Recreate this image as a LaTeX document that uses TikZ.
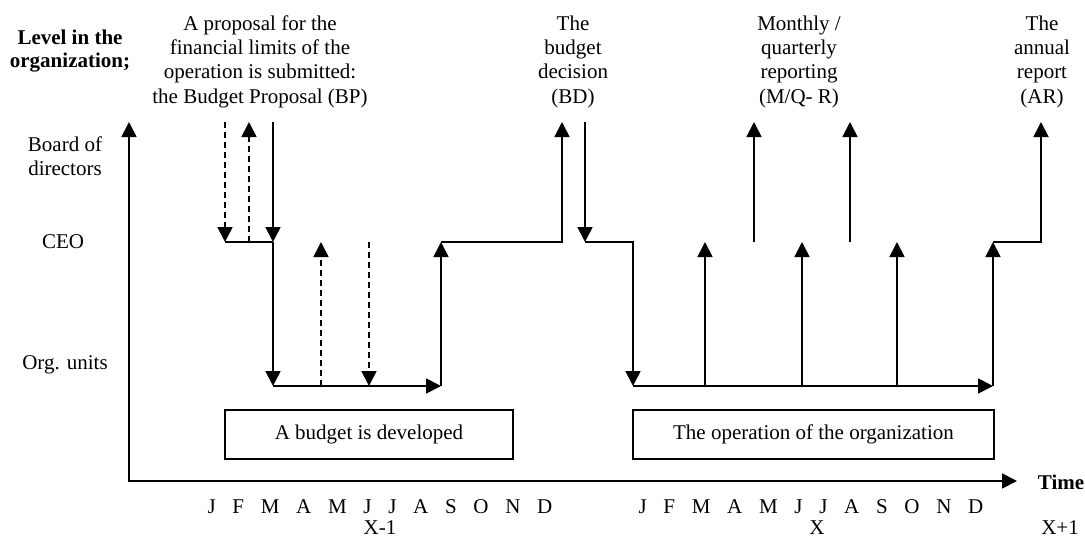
\documentclass[tikz,border=0pt]{standalone}
\usepackage{fontspec}
\setmainfont{Liberation Serif}
\usetikzlibrary{arrows.meta}
\newcommand\mgap{\hspace{16.7pt}}
\newcommand\monthsrow{J\mgap F\mgap M\mgap A\mgap M\mgap J\mgap J\mgap A\mgap S\mgap O\mgap N\mgap D}
\begin{document}
\begin{tikzpicture}[x=1pt,y=-1pt,
  lw/.style={line width=1.8pt},
  tip/.style={-{Triangle[length=15pt,width=15pt]}},
  dsh/.style={dash pattern=on 6pt off 4pt},
  txt/.style={align=center,inner sep=0pt,font=\fontsize{21}{24.3}\selectfont},
  txtb/.style={align=center,inner sep=0pt,font=\fontsize{21}{23}\selectfont\bfseries},
  phase/.style={draw,line width=1.6pt,minimum height=49pt,inner sep=0pt,font=\fontsize{21}{24.3}\selectfont}]
\useasboundingbox (0,0) rectangle (1085,538);
\def\yB{122}
\def\yC{242}
\def\yO{386}

% axes
\coordinate (O) at (129,481);
\coordinate (Ytop) at (129,\yB);
\coordinate (Xend) at (1017,481);
\draw[lw,{Triangle[length=15pt,width=15pt]}-{Triangle[length=15pt,width=15pt]}] (Ytop) -- (O) -- (Xend);

% axis and level labels
\node[txtb] (lvl) at (70,51.5) {Level in the\\organization;};
\node[txt] (board) at (65,156.5) {Board of\\directors};
\node[txt] (ceo) at (63,242) {CEO};
\node[txt] (org) at (65,365) {Org. units};
\node[txtb] (time) at (1061,482) {Time};

% event labels
\node[txt] (bp) at (260,61.5) {A proposal for the\\financial limits of the\\operation is submitted:\\the Budget Proposal (BP)};
\node[txt] (bd) at (573,61.5) {The\\budget\\decision\\(BD)};
\node[txt] (mqr) at (799,61.5) {Monthly /\\quarterly\\reporting\\(M/Q- R)};
\node[txt] (ar) at (1042,61.5) {The\\annual\\report\\(AR)};

% budget proposal exchange
\coordinate (p1t) at (225,\yB);
\coordinate (p1c) at (225,\yC);
\coordinate (p2c) at (249,\yC);
\coordinate (p2t) at (249,\yB);
\coordinate (p3t) at (273,\yB);
\coordinate (p3c) at (273,\yC);
\coordinate (p3o) at (273,\yO);
\draw[lw,dsh,tip] (p1t) -- (p1c);
\draw[lw,dsh,tip] (p2c) -- (p2t);
\draw[lw] (p1c) -- (p3c);
\draw[lw,tip] (p3t) -- (p3c);
\draw[lw,tip] (p3c) -- (p3o);

% budget development at the units
\coordinate (q1o) at (441,\yO);
\coordinate (q1c) at (441,\yC);
\coordinate (d1o) at (321,\yO);
\coordinate (d1c) at (321,\yC);
\coordinate (d2c) at (369,\yC);
\coordinate (d2o) at (369,\yO);
\draw[lw,tip] (p3o) -- (q1o);
\draw[lw,dsh,tip] (d1o) -- (d1c);
\draw[lw,dsh,tip] (d2c) -- (d2o);
\draw[lw,tip] (q1o) -- (q1c);

% budget decision
\coordinate (bd1c) at (562,\yC);
\coordinate (bd1t) at (562,\yB);
\coordinate (bd2t) at (585,\yB);
\coordinate (bd2c) at (585,\yC);
\coordinate (op1c) at (633,\yC);
\coordinate (op1o) at (633,\yO);
\draw[lw,tip] (q1c) -- (bd1c) -- (bd1t);
\draw[lw,tip] (bd2t) -- (bd2c);
\draw[lw,tip] (bd2c) -- (op1c) -- (op1o);

% operation and reporting
\coordinate (opend) at (993,\yO);
\coordinate (opendc) at (993,\yC);
\draw[lw,tip] (op1o) -- (opend);
\foreach \xx/\nm in {705/u1,802/u2,897/u3}{
  \coordinate (\nm o) at (\xx,\yO);
  \coordinate (\nm c) at (\xx,\yC);
  \draw[lw,tip] (\nm o) -- (\nm c);
}
\foreach \xx/\nm in {754/r1,850/r2}{
  \coordinate (\nm c) at (\xx,\yC);
  \coordinate (\nm t) at (\xx,\yB);
  \draw[lw,tip] (\nm c) -- (\nm t);
}
\coordinate (arc) at (1041,\yC);
\coordinate (art) at (1041,\yB);
\draw[lw,tip] (opend) -- (opendc);
\draw[lw,tip] (opendc) -- (arc) -- (art);

% phases
\node[phase,minimum width=288pt] (dev) at (369,434.5) {A budget is developed};
\node[phase,minimum width=361pt] (oper) at (813.5,434.5) {The operation of the organization};

% time scale
\node[txt] (m1) at (380,507) {\monthsrow};
\node[txt] (m2) at (811,507) {\monthsrow};
\node[txt] (y1) at (380,528) {X-1};
\node[txt] (y2) at (817,528) {X};
\node[txt] (y3) at (1060,528) {X+1};
\end{tikzpicture}
\end{document}
